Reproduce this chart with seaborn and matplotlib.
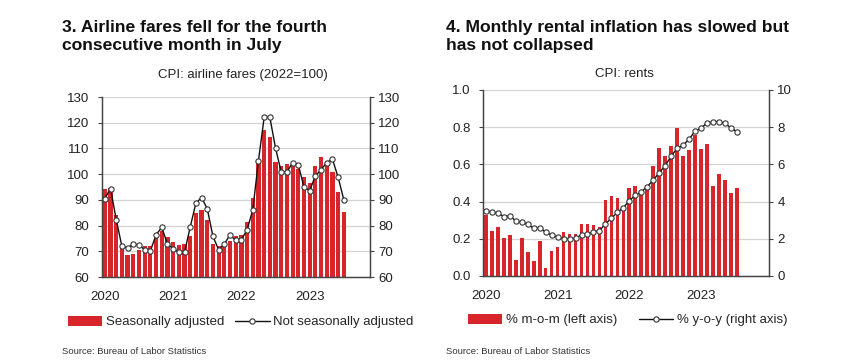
import numpy as np
import pandas as pd
import seaborn as sns
import matplotlib.pyplot as plt
from matplotlib.patches import Patch
from matplotlib.lines import Line2D

# monthly, Jan 2020 .. Jul 2023
months = pd.date_range('2020-01-01', '2023-07-01', freq='MS')

airfare_sa = [94.2, 94.5, 84.2, 72.3, 68.6, 69.1, 70.4, 71.9, 72.2, 75.1, 77.7, 75.5,
              73.5, 72.6, 72.8, 76.0, 84.9, 85.9, 82.3, 72.9, 71.9, 71.7, 73.9, 76.1,
              76.4, 81.2, 90.9, 105.3, 117.2, 114.6, 104.9, 103.2, 104.0, 103.2, 101.9, 98.8,
              96.5, 103.0, 106.8, 103.2, 101.0, 93.0, 85.2]
airfare_nsa = [90.5, 94.4, 82.3, 71.9, 71.3, 72.8, 72.4, 70.6, 70.1, 76.4, 79.3, 72.9,
               70.9, 69.6, 69.6, 79.4, 88.7, 90.9, 86.5, 75.8, 70.6, 72.8, 76.4, 74.2,
               74.5, 78.4, 86.1, 105.3, 122.1, 122.1, 110.1, 100.8, 100.8, 104.5, 103.6, 94.9,
               93.6, 99.3, 101.7, 104.5, 105.8, 98.8, 90.0]

rent_mom = [0.328, 0.242, 0.265, 0.206, 0.222, 0.088, 0.206, 0.131, 0.081, 0.188, 0.045, 0.136,
            0.154, 0.237, 0.224, 0.224, 0.280, 0.280, 0.272, 0.265, 0.409, 0.428, 0.421, 0.375,
            0.473, 0.484, 0.453, 0.482, 0.590, 0.690, 0.647, 0.701, 0.797, 0.647, 0.677, 0.758,
            0.681, 0.708, 0.486, 0.547, 0.514, 0.448, 0.471]
rent_yoy = [3.49, 3.44, 3.39, 3.19, 3.23, 2.96, 2.90, 2.78, 2.56, 2.60, 2.35, 2.20,
            2.10, 2.01, 1.99, 2.03, 2.22, 2.26, 2.38, 2.44, 2.80, 3.10, 3.42, 3.67,
            4.05, 4.34, 4.53, 4.80, 5.16, 5.54, 5.93, 6.43, 6.86, 7.03, 7.35, 7.78,
            7.96, 8.21, 8.30, 8.30, 8.21, 7.97, 7.76]

year_labels = ['2020', '2021', '2022', '2023']

RED = '#d7262b'
GRID = '#d4d4d4'
SPINE = '#444444'

sns.set_theme(style='white')
plt.rcParams['font.family'] = ['Liberation Sans', 'DejaVu Sans']

df_air = pd.DataFrame({'pos': np.arange(len(months)), 'sa': airfare_sa, 'nsa': airfare_nsa})
df_rent = pd.DataFrame({'pos': np.arange(len(months)), 'mom': rent_mom, 'yoy': rent_yoy})
year_pos = [i for i, m in enumerate(months) if m.month == 1]

fig = plt.figure(figsize=(8.49, 3.64), dpi=100)
W, H = 849, 364


def px_axes(x0, y0, x1, y1):
    return fig.add_axes([x0 / W, 1 - y1 / H, (x1 - x0) / W, (y1 - y0) / H])


def style_axes(ax, ax2, xmax):
    for a in (ax, ax2):
        for s in ('left', 'right', 'bottom'):
            a.spines[s].set_color(SPINE)
            a.spines[s].set_linewidth(0.9)
        a.spines['top'].set_visible(False)
        a.tick_params(axis='y', direction='out', length=3, width=0.8, color=SPINE,
                      labelsize=9.5, labelcolor='#222222')
    ax.tick_params(axis='y', pad=6)
    ax2.tick_params(axis='y', pad=3)
    ax.set_xlim(-0.5, xmax)
    ax.set_xticks(year_pos)
    ax.set_xticklabels(year_labels)
    ax.tick_params(axis='x', direction='out', length=3, width=0.8, color=SPINE,
                   labelsize=9.5, labelcolor='#222222', pad=7)
    ax.yaxis.grid(True, color=GRID, linewidth=0.9)
    ax.set_axisbelow(True)
    ax.set_xlabel('')
    ax.set_ylabel('')
    ax2.set_ylabel('')


line_kw = dict(color='#111111', linewidth=1.0, marker='o', markersize=3.8,
               markerfacecolor='white', markeredgecolor='#333333', markeredgewidth=0.8)
title_kw = dict(fontsize=12.6, fontweight='bold', color='#111111', va='baseline')
src_kw = dict(fontsize=6.8, family=['Liberation Sans Narrow', 'Liberation Sans'],
              color='#333333', va='baseline')

# ---- chart 3: airline fares
ax = px_axes(102, 97, 370, 277)
sns.barplot(data=df_air, x='pos', y='sa', native_scale=True, color=RED, saturation=1,
            width=0.74, ax=ax, linewidth=0)
ax.plot(df_air['pos'], df_air['nsa'], **line_kw)
ax.set_ylim(60, 130)
ax.set_yticks(range(60, 131, 10))
ax2 = ax.twinx()
ax2.set_ylim(60, 130)
ax2.set_yticks(range(60, 131, 10))
style_axes(ax, ax2, 46.6)

fig.text(62 / W, 1 - 32 / H, '3. Airline fares fell for the fourth', **title_kw)
fig.text(62 / W, 1 - 50 / H, 'consecutive month in July', **title_kw)
fig.text(243 / W, 1 - 78 / H, 'CPI: airline fares (2022=100)', fontsize=9.5,
         ha='center', va='baseline', color='#222222')

h1 = [Patch(facecolor=RED, edgecolor='none'), Line2D([], [], **line_kw)]
fig.legend(h1, ['Seasonally adjusted', 'Not seasonally adjusted'],
           loc='center left', bbox_to_anchor=(68 / W, 1 - 322 / H), ncol=2, frameon=False,
           fontsize=9.5, handlelength=2.6, handleheight=0.8, handletextpad=0.3,
           columnspacing=0.8, borderaxespad=0, borderpad=0)
fig.text(62 / W, 1 - 354 / H, 'Source: Bureau of Labor Statistics', **src_kw)

# ---- chart 4: rents
bx = px_axes(483, 90, 769, 276)
sns.barplot(data=df_rent, x='pos', y='mom', native_scale=True, color=RED, saturation=1,
            width=0.6, ax=bx, linewidth=0)
bx.set_ylim(0, 1.0)
bx.set_yticks(np.arange(0, 1.01, 0.2))
bx.set_yticklabels([f'{v:.1f}' for v in np.arange(0, 1.01, 0.2)])
bx2 = bx.twinx()
bx2.plot(df_rent['pos'], df_rent['yoy'], **line_kw)
bx2.set_ylim(0, 10)
bx2.set_yticks(range(0, 11, 2))
style_axes(bx, bx2, 47.4)

fig.text(446 / W, 1 - 32 / H, '4. Monthly rental inflation has slowed but', **title_kw)
fig.text(446 / W, 1 - 50 / H, 'has not collapsed', **title_kw)
fig.text(624 / W, 1 - 77 / H, 'CPI: rents', fontsize=9.5,
         ha='center', va='baseline', color='#222222')

h2 = [Patch(facecolor=RED, edgecolor='none'), Line2D([], [], **line_kw)]
fig.legend(h2, ['% m-o-m (left axis)', '% y-o-y (right axis)'],
           loc='center left', bbox_to_anchor=(468 / W, 1 - 320 / H), ncol=2, frameon=False,
           fontsize=9.5, handlelength=2.6, handleheight=0.8, handletextpad=0.3,
           columnspacing=1.6, borderaxespad=0, borderpad=0)
fig.text(446 / W, 1 - 354 / H, 'Source: Bureau of Labor Statistics', **src_kw)

fig.savefig('out.png', dpi=100, facecolor='white')
